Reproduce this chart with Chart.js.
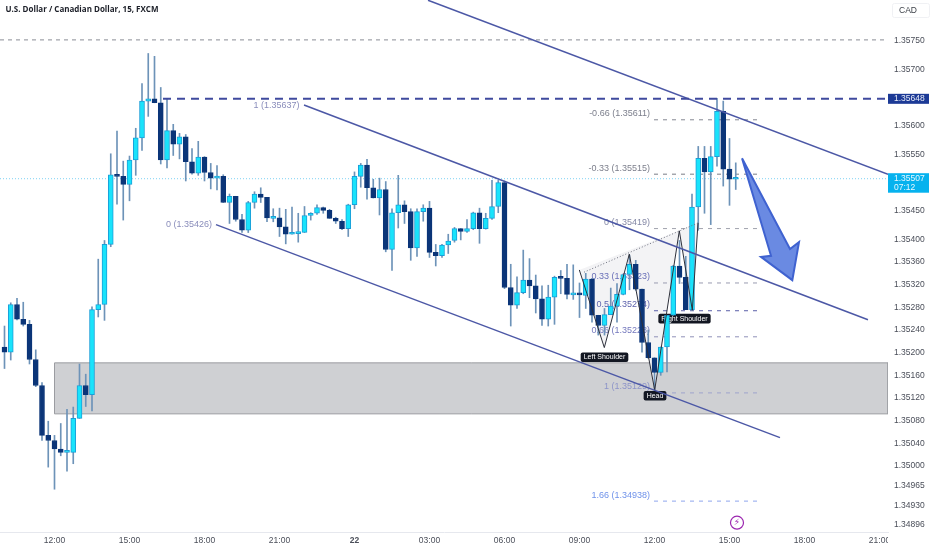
<!DOCTYPE html>
<html>
<head>
<meta charset="utf-8">
<style>html,body{margin:0;padding:0;background:#fff}canvas{display:block}</style>
<script src="https://cdn.jsdelivr.net/npm/chart.js@4/dist/chart.umd.min.js"></script>
</head>
<body>
<canvas id="c" width="932" height="550"></canvas>
<script>
const title = 'U.S. Dollar / Canadian Dollar, 15, FXCM';
const currency = 'CAD';
const firstBar = -8;
const opens = [1.35210,1.35201,1.35285,1.35259,1.35250,1.35188,1.35142,1.35054,1.35045,1.35030,
1.35024,1.35024,1.35084,1.35142,1.35126,1.35276,1.35285,1.35391,1.35514,1.35511,
1.35497,1.35540,1.35579,1.35644,1.35648,1.35641,1.35540,1.35592,1.35568,1.35581,
1.35537,1.35517,1.35545,1.35518,1.35508,1.35511,1.35465,1.35476,1.35435,1.35416,
1.35465,1.35480,1.35474,1.35437,1.35438,1.35422,1.35409,1.35410,1.35412,1.35442,
1.35446,1.35456,1.35451,1.35437,1.35432,1.35419,1.35461,1.35511,1.35531,1.35491,
1.35473,1.35488,1.35382,1.35447,1.35461,1.35449,1.35385,1.35449,1.35455,1.35377,
1.35371,1.35390,1.35398,1.35419,1.35414,1.35419,1.35447,1.35419,1.35437,1.35458,
1.35500,1.35315,1.35284,1.35306,1.35328,1.35318,1.35295,1.35259,1.35298,1.35333,
1.35331,1.35302,1.35304,1.35301,1.35330,1.35266,1.35248,1.35267,1.35282,1.35303,
1.35338,1.35356,1.35312,1.35218,1.35191,1.35165,1.35210,1.35266,1.35353,1.35333,
1.35276,1.35457,1.35543,1.35519,1.35546,1.35626,1.35524,1.35506];
const closes = [1.35201,1.35285,1.35259,1.35250,1.35188,1.35142,1.35054,1.35045,1.35030,1.35024,
1.35024,1.35084,1.35142,1.35126,1.35276,1.35285,1.35391,1.35514,1.35511,1.35497,
1.35540,1.35579,1.35644,1.35648,1.35641,1.35540,1.35592,1.35568,1.35581,1.35537,
1.35517,1.35545,1.35518,1.35508,1.35511,1.35465,1.35476,1.35435,1.35416,1.35465,
1.35480,1.35474,1.35438,1.35439,1.35422,1.35409,1.35411,1.35412,1.35442,1.35446,
1.35456,1.35451,1.35437,1.35432,1.35419,1.35461,1.35511,1.35531,1.35491,1.35473,
1.35488,1.35382,1.35447,1.35461,1.35449,1.35385,1.35449,1.35455,1.35377,1.35371,
1.35390,1.35397,1.35419,1.35414,1.35419,1.35447,1.35419,1.35437,1.35458,1.35500,
1.35315,1.35284,1.35306,1.35328,1.35318,1.35295,1.35259,1.35298,1.35333,1.35331,
1.35303,1.35304,1.35302,1.35330,1.35266,1.35248,1.35267,1.35282,1.35303,1.35338,
1.35356,1.35312,1.35218,1.35191,1.35165,1.35210,1.35266,1.35353,1.35333,1.35276,
1.35457,1.35543,1.35519,1.35546,1.35626,1.35524,1.35506,1.35507];
const highs = [1.35247,1.35288,1.35296,1.35289,1.35257,1.35205,1.35147,1.35079,1.35054,1.35075,
1.35100,1.35104,1.35180,1.35162,1.35281,1.35365,1.35398,1.35551,1.35591,1.35538,
1.35547,1.35596,1.35675,1.35728,1.35723,1.35668,1.35647,1.35603,1.35587,1.35585,
1.35560,1.35573,1.35546,1.35534,1.35530,1.35514,1.35480,1.35476,1.35444,1.35467,
1.35484,1.35491,1.35474,1.35454,1.35455,1.35453,1.35457,1.35446,1.35458,1.35447,
1.35461,1.35457,1.35453,1.35439,1.35435,1.35462,1.35519,1.35534,1.35541,1.35506,
1.35508,1.35502,1.35454,1.35513,1.35468,1.35454,1.35454,1.35461,1.35467,1.35391,
1.35391,1.35409,1.35421,1.35419,1.35435,1.35448,1.35455,1.35446,1.35504,1.35504,
1.35503,1.35356,1.35334,1.35381,1.35366,1.35337,1.35318,1.35319,1.35335,1.35345,
1.35356,1.35355,1.35323,1.35340,1.35331,1.35266,1.35278,1.35314,1.35322,1.35338,
1.35372,1.35363,1.35312,1.35240,1.35191,1.35210,1.35266,1.35354,1.35398,1.35370,
1.35480,1.35564,1.35564,1.35564,1.35649,1.35644,1.35578,1.35535];
const lows = [1.35172,1.35187,1.35258,1.35247,1.35180,1.35140,1.35045,1.34998,1.34959,1.35018,
1.34991,1.35004,1.35084,1.35105,1.35097,1.35263,1.35257,1.35387,1.35462,1.35434,
1.35468,1.35513,1.35557,1.35617,1.35641,1.35533,1.35526,1.35548,1.35542,1.35503,
1.35515,1.35513,1.35503,1.35489,1.35487,1.35465,1.35428,1.35432,1.35412,1.35412,
1.35455,1.35465,1.35431,1.35431,1.35405,1.35392,1.35409,1.35395,1.35412,1.35434,
1.35444,1.35446,1.35437,1.35428,1.35417,1.35405,1.35454,1.35492,1.35471,1.35473,
1.35443,1.35378,1.35345,1.35420,1.35428,1.35363,1.35370,1.35432,1.35368,1.35353,
1.35368,1.35375,1.35395,1.35399,1.35412,1.35417,1.35393,1.35418,1.35435,1.35447,
1.35313,1.35247,1.35278,1.35304,1.35297,1.35270,1.35248,1.35247,1.35250,1.35304,
1.35295,1.35294,1.35262,1.35278,1.35254,1.35231,1.35231,1.35267,1.35254,1.35302,
1.35311,1.35310,1.35201,1.35190,1.35134,1.35160,1.35166,1.35266,1.35322,1.35276,
1.35274,1.35416,1.35446,1.35426,1.35529,1.35494,1.35460,1.35488];

const xTickBars = [0,12,24,36,48,60,72,84,96,108,120,132];
const xTickLabels = ['12:00','15:00','18:00','21:00','22','03:00','06:00','09:00','12:00','15:00','18:00','21:00'];
const yTickValues = [1.35750,1.35700,1.35600,1.35550,1.35450,1.35400,1.35360,1.35320,1.35280,1.35240,1.35200,1.35160,1.35120,1.35080,1.35040,1.35000,1.34965,1.34930,1.34896];

const lastPrice = 1.35507;
const lastCountdown = '07:12';
const resistancePrice = 1.35648;
const topLevelPrice = 1.35752;

const fibRatios = ['-0.66','-0.33','0','0.33','0.5','0.66','1','1.66'];
const fibPrices = [1.35611,1.35515,1.35419,1.35323,1.35274,1.35228,1.35129,1.34938];
const fibStartBar = 95.92, fibEndBar = 113.04;

const channelUpper = [{x:59.76,y:1.35822},{x:133.36,y:1.35515}];
const channelMiddle = [{x:39.92,y:1.35637},{x:130.16,y:1.35258}];
const channelLower = [{x:25.84,y:1.35426},{x:116.08,y:1.35050}];
const zoneBars = [0,133.36], zoneTop = 1.35182, zoneBottom = 1.35092;
const patternPoints = [{x:83.97,y:1.35346},{x:87.97,y:1.35209},{x:91.97,y:1.35374},{x:96.03,y:1.35134},{x:99.97,y:1.35415},{x:102.05,y:1.35275},{x:102.96,y:1.35429}];
const patternNeck = [{x:84.72,y:1.35342},{x:102.96,y:1.35429}];
const arrowPoints = [{x:110.0,y:1.35543},{x:117.68,y:1.35383},{x:119.12,y:1.35395},{x:118.05,y:1.35328},{x:113.04,y:1.35369},{x:114.64,y:1.35371},{x:110.0,y:1.35543}];
const patternLabels = [{t:'Left Shoulder',x:88,y:1.35192},{t:'Head',x:96.08,y:1.35124},{t:'Right Shoulder',x:100.8,y:1.35260}];
const channelLabels = [{t:'1 (1.35637)',x:39.2,y:1.35637},{t:'0 (1.35426)',x:25.2,y:1.35426}];
const eventPoint = [{x:109.2,y:1.34900}];

const FONT = '"Liberation Sans", Arial, sans-serif';
const CYAN='#19e3fb', CYAN_EDGE='#1a9fd8', NAVY='#0b3578';
const fibLine = ['#858893','#787b86','#a0a3ad','#9a9cb0','#5a5fa8','#8f91b8','#9ea3cc','#8ea6ee'];
const fibText = ['#7c7f8c','#7c7f8c','#8387a5','#6a70b8','#5f64ad','#7478bd','#8d94c9','#6f92ea'];

const xs = opens.map((_,i)=>i+firstBar);
const wicks = xs.map((x,i)=>({x,y:[lows[i],highs[i]]}));
const bodies = xs.map((x,i)=>({x,y:[opens[i],closes[i]]}));
const isUp = ctx => { const i=ctx.dataIndex; return closes[i]>=opens[i]; };
const hline = (p,a,b)=>[{x:a,y:p},{x:b,y:p}];
const XMIN=-8.72, XMAX=133.36;

const line = (data,color,width,extra={}) => Object.assign({type:'line',data,borderColor:color,borderWidth:width,pointRadius:0,tension:0,fill:false,parsing:true,order:3},extra);

const datasets = [
  line([{x:zoneBars[0],y:zoneTop},{x:zoneBars[1],y:zoneTop},{x:zoneBars[1],y:zoneBottom},{x:zoneBars[0],y:zoneBottom},{x:zoneBars[0],y:zoneTop}],'#9b9ca1',1,{fill:'shape',backgroundColor:'#cfd0d3',order:12}),
  line(patternPoints.concat([patternPoints[0]]),'rgba(0,0,0,0)',0,{fill:'shape',backgroundColor:'#f3f3f5',order:11}),
  line(hline(topLevelPrice,XMIN,XMAX),'#8a8d96',1,{borderDash:[4,4],order:9}),
  line(hline(lastPrice,XMIN,XMAX),'#7ed2f4',1,{borderDash:[1,2],order:9}),
  ...fibPrices.map((p,i)=>line(hline(p,fibStartBar,fibEndBar),fibLine[i],1,{borderDash:[4,5],order:8})),
  line([], '#000', 0, {label:'labels', order:7}),
  {type:'bar',label:'wick',data:wicks,grouped:false,barThickness:1,backgroundColor:'#6d93b8',borderWidth:0,order:6},
  {type:'bar',label:'candle',data:bodies,grouped:false,barThickness:5,minBarLength:2,borderSkipped:false,borderWidth:1,
    backgroundColor:ctx=>isUp(ctx)?CYAN:NAVY, borderColor:ctx=>isUp(ctx)?CYAN_EDGE:NAVY, order:5},
  line(patternNeck,'#6f7280',1,{borderDash:[1,2],order:4}),
  line(patternPoints,'#2c2f3a',1,{order:4}),
  line(hline(resistancePrice,17.36,XMAX),'#3f4a9e',2,{borderDash:[8,6],order:3}),
  line(channelUpper,'#4c58a6',1.5,{order:3}),
  line(channelMiddle,'#4c58a6',1.5,{order:3}),
  line(channelLower,'#4c58a6',1.5,{order:3}),
  line(arrowPoints,'#3f62d0',2,{fill:'shape',backgroundColor:'#6a8ae2',borderJoinStyle:'miter',order:2}),
  line(eventPoint,'#9c27b0',0,{showLine:false,pointRadius:6.5,pointBorderWidth:1.2,pointBackgroundColor:'#fff',pointBorderColor:'#9c27b0',order:1}),
];

function roundRect(g,x,y,w,h,r){g.beginPath();g.roundRect(x,y,w,h,r);}

const overlay = {
  id:'overlay',
  afterDatasetDraw(chart,args){
    if(chart.data.datasets[args.index].label!=='labels') return;
    const g=chart.ctx,X=chart.scales.x,Y=chart.scales.y;
    g.save();
    g.font='9px '+FONT; g.textBaseline='middle'; g.textAlign='right';
    fibRatios.forEach((r,i)=>{
      g.fillStyle=fibText[i];
      g.fillText(r+' ('+fibPrices[i].toFixed(5)+')',X.getPixelForValue(fibStartBar)-4,Y.getPixelForValue(fibPrices[i])-6);
    });
    channelLabels.forEach(l=>{
      g.fillStyle='#8a8dbb';
      g.fillText(l.t,X.getPixelForValue(l.x),Y.getPixelForValue(l.y));
    });
    g.textAlign='center'; g.font='7px '+FONT;
    patternLabels.forEach(l=>{
      const px=X.getPixelForValue(l.x),py=Y.getPixelForValue(l.y),w=g.measureText(l.t).width+6;
      g.fillStyle='#131722'; roundRect(g,px-w/2,py-4.8,w,9.6,2); g.fill();
      g.fillStyle='#fff'; g.fillText(l.t,px,py+0.3);
    });
    g.restore();
  },
  afterDraw(chart){
    const g=chart.ctx,X=chart.scales.x,Y=chart.scales.y,R=chart.chartArea.right;
    g.save();
    g.fillStyle='#fff'; g.fillRect(R,chart.chartArea.bottom+1,44,17);
    g.textBaseline='middle'; g.textAlign='left';
    g.font='700 8px "Open Sans", sans-serif'; g.fillStyle='#1b1e27';
    g.fillText(title,5.5,10);
    g.fillStyle='#fff'; g.strokeStyle='#f0f1f4'; g.lineWidth=1; roundRect(g,892.5,3.5,37,14,2); g.stroke();
    g.font='8.5px '+FONT; g.fillStyle='#3c4048'; g.textAlign='center'; g.fillText(currency,908,10.5);
    g.textAlign='left';
    const ry=Y.getPixelForValue(resistancePrice);
    g.fillStyle='#1c3a96'; g.fillRect(R,ry-5,41,10);
    g.font='8.5px '+FONT; g.fillStyle='#e8ecf8'; g.fillText(resistancePrice.toFixed(5),894,ry+0.3);
    const ly=Y.getPixelForValue(lastPrice);
    g.fillStyle='#06b2ee'; g.fillRect(R,ly-5.5,41,19.5);
    g.fillStyle='#e8f8ff'; g.fillText(lastPrice.toFixed(5),894,ly-0.5); g.fillText(lastCountdown,894,ly+8.8);
    g.font='9px "DejaVu Sans", sans-serif'; g.fillStyle='#9c27b0'; g.textAlign='center';
    g.fillText('\u26A1',X.getPixelForValue(eventPoint[0].x),Y.getPixelForValue(eventPoint[0].y)+0.5);
    g.restore();
  }
};

new Chart(document.getElementById('c'),{
  type:'bar',
  data:{datasets},
  plugins:[overlay],
  options:{
    responsive:false,animation:false,
    layout:{padding:0,autoPadding:false},
    plugins:{legend:{display:false},tooltip:{enabled:false},title:{display:false}},
    scales:{
      x:{type:'linear',min:XMIN,max:XMAX,offset:false,
        grid:{display:false,offset:false,drawTicks:false},
        border:{display:true,color:'#e6e8ee',width:1},
        afterBuildTicks:s=>{s.ticks=xTickBars.map(v=>({value:v}));},
        afterFit:s=>{s.height=18;s.paddingLeft=0;s.paddingRight=0;},
        ticks:{autoSkip:false,maxRotation:0,padding:4,color:'#4a4e59',
          font:ctx=>({family:FONT,size:8.5,weight:(ctx.tick&&ctx.tick.label==='22')?'bold':'normal'}),
          callback:v=>{const i=xTickBars.indexOf(v);return i<0?'':xTickLabels[i];}}
      },
      y:{type:'linear',position:'right',min:1.348835,max:1.358224,
        grid:{display:false,drawTicks:false},
        border:{display:false},
        afterBuildTicks:s=>{s.ticks=yTickValues.map(v=>({value:v}));},
        afterFit:s=>{s.width=44;s.paddingTop=0;s.paddingBottom=0;},
        ticks:{autoSkip:false,padding:6,crossAlign:'near',color:'#4a4e59',font:{family:FONT,size:8.5},
          callback:v=>Number(v).toFixed(5)}
      }
    }
  }
});
</script>
</body>
</html>
